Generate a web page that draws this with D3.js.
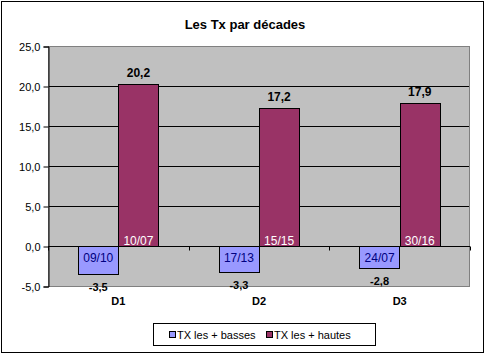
<!DOCTYPE html>
<html><head><meta charset="utf-8">
<script src="https://cdn.jsdelivr.net/npm/d3@7"></script>
<style>body{margin:0;background:#fff}svg{display:block;font-family:"Liberation Sans",Arial,sans-serif}</style>
</head><body><svg id="c" width="486" height="355"></svg>
<script>
const categories = ["D1","D2","D3"];
const seriesNames = ["TX les + basses","TX les + hautes"];
const lowValues = [-3.5,-3.3,-2.8];
const highValues = [20.2,17.2,17.9];
const lowDates = ["09/10","17/13","24/07"];
const highDates = ["10/07","15/15","30/16"];
const yTicks = [-5,0,5,10,15,20,25];

const svg = d3.select("#c");
const m = {l:48, r:470, t:46, b:286};
const y = d3.scaleLinear().domain([-5,25]).range([m.b,m.t]);
const x = d3.scaleBand().domain(categories).range([m.l,m.r]).paddingInner(0.4286).paddingOuter(0.2143);
const xs = d3.scaleBand().domain([0,1]).range([0,x.bandwidth()]);
const colors = ["#9999FF","#993366"];
const fmt = v => d3.format(".1f")(v).replace(".",",").replace("−","-");

svg.append("rect").attr("x",1.5).attr("y",1.5).attr("width",482).attr("height",351).attr("fill","#fff").attr("stroke","#000").attr("stroke-width",1);
svg.append("text").attr("x",245).attr("y",29).attr("text-anchor","middle").attr("font-weight","bold").attr("font-size",13).text("Les Tx par décades");

svg.append("rect").attr("x",m.l).attr("y",m.t).attr("width",m.r-m.l).attr("height",m.b-m.t).attr("fill","#C0C0C0");
// gridlines
svg.append("g").selectAll("line").data(yTicks.filter(v=>v>0)).join("line")
  .attr("x1",m.l).attr("x2",m.r).attr("y1",d=>Math.round(y(d))+0.5).attr("y2",d=>Math.round(y(d))+0.5).attr("stroke","#000");
svg.append("rect").attr("x",m.l+0.5).attr("y",m.t+0.5).attr("width",m.r-m.l-1).attr("height",m.b-m.t).attr("fill","none").attr("stroke","#808080");

// y axis
const ya = d3.axisLeft(y).tickValues(yTicks).tickSize(5).tickPadding(3).tickFormat(fmt);
const yg = svg.append("g").attr("transform",`translate(${m.l+0.5},0.5)`).call(ya);
yg.select(".domain").attr("stroke","#000");
yg.selectAll("text").attr("font-size",11).attr("font-family","Liberation Sans, Arial").attr("fill","#000");

const data = categories.map((c,i)=>[
  {c, s:0, v:lowValues[i], d:lowDates[i]},
  {c, s:1, v:highValues[i], d:highDates[i]}]).flat();

const y0 = Math.round(y(0))+0.5;
const bars = svg.append("g").selectAll("rect").data(data).join("rect")
  .attr("x",d=>Math.round(x(d.c)+xs(d.s))+0.5)
  .attr("width",Math.round(xs.bandwidth()))
  .attr("y",d=>d.v>0?Math.round(y(d.v))+0.5:y0)
  .attr("height",d=>Math.abs(Math.round(y(d.v))-Math.round(y(0))))
  .attr("fill",d=>colors[d.s]).attr("stroke","#000").attr("stroke-width",1);

// zero axis and ticks
svg.append("line").attr("x1",m.l).attr("x2",m.r).attr("y1",y0).attr("y2",y0).attr("stroke","#000");
const bounds = [m.l, ...categories.slice(1).map(c=>x(c)-x.step()*x.paddingInner()/2), m.r];
svg.append("g").selectAll("line").data(bounds).join("line")
  .attr("x1",d=>Math.round(d)+0.5).attr("x2",d=>Math.round(d)+0.5).attr("y1",y0).attr("y2",y0+4).attr("stroke","#000");

// date labels inside base
svg.append("g").selectAll("text").data(data).join("text")
  .attr("x",d=>x(d.c)+xs(d.s)+xs.bandwidth()/2)
  .attr("y",d=>d.v>0?y(0)-1:y(0)+16)
  .attr("text-anchor","middle").attr("font-size",12)
  .attr("fill",d=>d.s===1?"#fff":"#000080").text(d=>d.d);

// value labels
svg.append("g").selectAll("text").data(data).join("text")
  .attr("x",d=>x(d.c)+xs(d.s)+xs.bandwidth()/2)
  .attr("y",d=>d.v>0?y(d.v)-7:y(d.v)+17)
  .attr("text-anchor","middle").attr("font-weight","bold")
  .attr("font-size",d=>d.v>0?12:11).attr("fill","#000").text(d=>fmt(d.v));

// category labels
svg.append("g").selectAll("text").data(categories).join("text")
  .attr("x",d=>x(d)+x.bandwidth()/2).attr("y",305)
  .attr("text-anchor","middle").attr("font-weight","bold").attr("font-size",11).text(d=>d);

// legend
const lg = svg.append("g");
lg.append("rect").attr("x",153.5).attr("y",323.5).attr("width",222).attr("height",22).attr("fill","#fff").attr("stroke","#000");
const lx = [169,266];
seriesNames.forEach((n,i)=>{
  lg.append("rect").attr("x",lx[i]+0.5).attr("y",331.5).attr("width",6).attr("height",6).attr("fill",colors[i]).attr("stroke","#000");
  lg.append("text").attr("x",lx[i]+8).attr("y",338.5).attr("font-size",11).text(n);
});
</script></body></html>
